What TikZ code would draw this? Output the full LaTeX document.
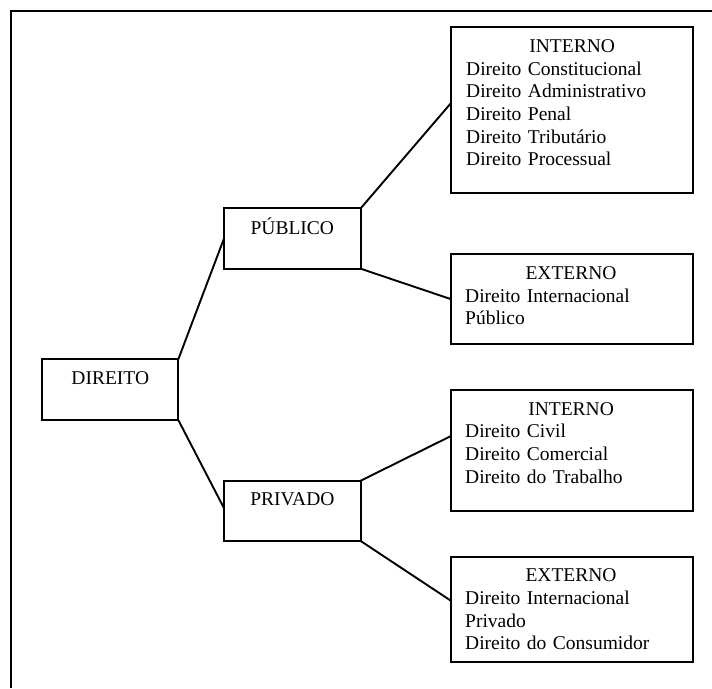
\documentclass[tikz,border=0pt]{standalone}
\usepackage{fontspec}
\setmainfont{Liberation Serif}
\usetikzlibrary{calc}
\newcommand{\listfont}{\fontsize{19.5pt}{22.7pt}\selectfont}
\tikzset{
  box/.style={draw, line width=2.3pt, rectangle, anchor=north west, outer sep=0pt, inner sep=0pt},
  link/.style={line width=1.9pt},
  frame/.style={line width=2.4pt},
  title/.style={anchor=base, inner sep=0pt, font=\listfont},
  listing/.style={anchor=base west, inner sep=0pt, font=\listfont, text width=#1, align=left}
}
\begin{document}
\begin{tikzpicture}[x=1pt, y=-1pt]
  \useasboundingbox (0,0) rectangle (712,688);
  % page frame (top and left edges only)
  \draw[frame] (11,688) -- (11,11) -- (712,11);

  % boxes
  \node[box, minimum width=136pt,   minimum height=60.7pt]  (dir)  at (42.3,359.3) {};
  \node[box, minimum width=136.7pt, minimum height=60.4pt]  (pub)  at (224,208.3) {};
  \node[box, minimum width=136.7pt, minimum height=60.3pt]  (priv) at (224,480.7) {};
  \node[box, minimum width=242pt,   minimum height=165.4pt] (int1) at (451,27.3) {};
  \node[box, minimum width=241.7pt, minimum height=90.3pt]  (ext1) at (451,254) {};
  \node[box, minimum width=241.7pt, minimum height=120.7pt] (int2) at (451,390) {};
  \node[box, minimum width=241.7pt, minimum height=105pt]   (ext2) at (451,556.7) {};

  % single-word labels
  \node[title] (tdir)  at ([yshift=-24.7pt]dir.north)  {DIREITO};
  \node[title] (tpub)  at ([yshift=-26pt]pub.north)    {PÚBLICO};
  \node[title] (tpriv) at ([yshift=-25pt]priv.north)   {PRIVADO};

  % branch contents
  \node[listing=212pt] (lint1) at ([xshift=15pt,yshift=-25pt]int1.north west)
    {\makebox[\linewidth][c]{INTERNO}\\
     Direito Constitucional\\
     Direito Administrativo\\
     Direito Penal\\
     Direito Tributário\\
     Direito Processual};
  \node[listing=211.7pt] (lext1) at ([xshift=14pt,yshift=-25.3pt]ext1.north west)
    {\makebox[\linewidth][c]{EXTERNO}\\
     Direito Internacional\\
     Público};
  \node[listing=211.7pt] (lint2) at ([xshift=14pt,yshift=-25pt]int2.north west)
    {\makebox[\linewidth][c]{INTERNO}\\
     Direito Civil\\
     Direito Comercial\\
     Direito do Trabalho};
  \node[listing=211.7pt] (lext2) at ([xshift=14pt,yshift=-25pt]ext2.north west)
    {\makebox[\linewidth][c]{EXTERNO}\\
     Direito Internacional\\
     Privado\\
     Direito do Consumidor};

  % connectors
  \draw[link] (dir.north east) -- (pub.west);
  \draw[link] (dir.south east) -- ($(priv.north west)!0.455!(priv.south west)$);
  \draw[link] (pub.north east) -- ($(int1.north west)!0.458!(int1.south west)$);
  \draw[link] (pub.south east) -- (ext1.west);
  \draw[link] (priv.north east) -- ($(int2.north west)!0.381!(int2.south west)$);
  \draw[link] (priv.south east) -- ($(ext2.north west)!0.42!(ext2.south west)$);
\end{tikzpicture}
\end{document}
